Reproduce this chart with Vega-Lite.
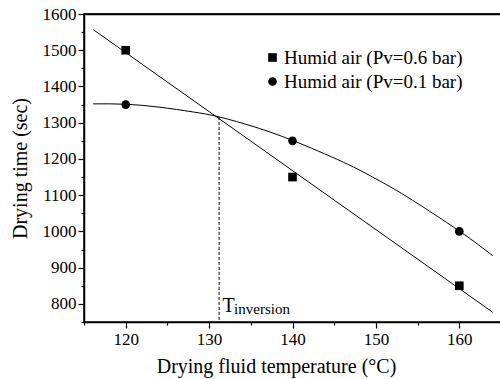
{
  "$schema": "https://vega.github.io/schema/vega-lite/v6.json",
  "width": 417,
  "height": 308,
  "autosize": {"type": "none"},
  "padding": {"left": 84, "top": 14, "right": 0, "bottom": 57},
  "background": "white",
  "config": {
    "font": "Liberation Serif",
    "view": {"stroke": "black", "strokeWidth": 1.5},
    "text": {"font": "Liberation Serif"},
    "legend": {"labelFont": "Liberation Serif", "titleFont": "Liberation Serif"},
    "axis": {"grid": false, "domainColor": "black", "tickColor": "black", "labelColor": "black", "titleColor": "black", "titleFontWeight": "normal", "domainWidth": 1.5, "tickWidth": 1.2, "labelFont": "Liberation Serif", "titleFont": "Liberation Serif"}
  },
  "datasets": {
    "pts": [
      {"T": 120, "time": 1500, "series": "Humid air (Pv=0.6 bar)"},
      {"T": 140, "time": 1150, "series": "Humid air (Pv=0.6 bar)"},
      {"T": 160, "time": 850, "series": "Humid air (Pv=0.6 bar)"},
      {"T": 120, "time": 1350, "series": "Humid air (Pv=0.1 bar)"},
      {"T": 140, "time": 1250, "series": "Humid air (Pv=0.1 bar)"},
      {"T": 160, "time": 1000, "series": "Humid air (Pv=0.1 bar)"}
    ],
    "fit": [
      {"T": 116.1, "time": 1557, "series": "a"},
      {"T": 164.0, "time": 777, "series": "a"},
      {"T": 116.1, "time": 1352, "series": "b"},
      {"T": 120.0, "time": 1351, "series": "b"},
      {"T": 124.0, "time": 1343, "series": "b"},
      {"T": 128.0, "time": 1330, "series": "b"},
      {"T": 131.2, "time": 1316, "series": "b"},
      {"T": 135.5, "time": 1288, "series": "b"},
      {"T": 140.0, "time": 1251, "series": "b"},
      {"T": 146.1, "time": 1191, "series": "b"},
      {"T": 150.0, "time": 1145, "series": "b"},
      {"T": 153.7, "time": 1096, "series": "b"},
      {"T": 160.0, "time": 1001, "series": "b"},
      {"T": 164.0, "time": 933, "series": "b"}
    ],
    "inv": [{"T": 131.2, "top": 1316, "bottom": 750}],
    "border": [{"lo": 115, "hi": 165, "level": 1599}],
    "ann": [
      {"T": 131.6, "time": 778, "label": "T", "kind": "main"},
      {"T": 133.0, "time": 773, "label": "inversion", "kind": "sub"}
    ]
  },
  "resolve": {"axis": {"x": "independent", "y": "independent"}},
  "layer": [
    {
      "data": {"name": "inv"},
      "mark": {"type": "rule", "color": "black", "strokeWidth": 1, "strokeDash": [3, 2]},
      "encoding": {
        "x": {"field": "T", "type": "quantitative", "scale": {"domain": [115, 165], "nice": false, "zero": false},
          "axis": {"values": [115, 125, 135, 145, 155, 165], "labels": false, "domain": false, "tickSize": 3, "title": null, "orient": "bottom"}},
        "y": {"field": "top", "type": "quantitative", "scale": {"domain": [750, 1600], "nice": false, "zero": false},
          "axis": {"values": [750, 850, 950, 1050, 1150, 1250, 1350, 1450, 1550], "labels": false, "domain": false, "tickSize": 3, "title": null, "orient": "left"}},
        "y2": {"field": "bottom"}
      }
    },
    {
      "data": {"name": "fit"},
      "mark": {"type": "line", "color": "black", "strokeWidth": 1, "interpolate": "natural"},
      "encoding": {
        "x": {"field": "T", "type": "quantitative",
          "axis": {"values": [120, 130, 140, 150, 160], "format": "d", "tickSize": 6, "labelFont": "Liberation Serif", "labelFontSize": 17, "labelPadding": 3, "title": "Drying fluid temperature (°C)", "titleFont": "Liberation Serif", "titleFontSize": 20, "titleFontWeight": "normal", "titleX": 192, "titleY": 50, "titleBaseline": "alphabetic", "orient": "bottom"}},
        "y": {"field": "time", "type": "quantitative",
          "axis": {"values": [800, 900, 1000, 1100, 1200, 1300, 1400, 1500, 1600], "format": "d", "tickSize": 6, "labelFont": "Liberation Serif", "labelFontSize": 17, "labelPadding": 2, "title": "Drying time (sec)", "titleFont": "Liberation Serif", "titleFontSize": 20, "titleFontWeight": "normal", "titlePadding": 12, "orient": "left"}},
        "detail": {"field": "series"}
      }
    },
    {
      "data": {"name": "border"},
      "mark": {"type": "rule", "color": "black", "strokeWidth": 1.5},
      "encoding": {
        "x": {"field": "lo", "type": "quantitative", "axis": null},
        "x2": {"field": "hi"},
        "y": {"field": "level", "type": "quantitative", "axis": null}
      }
    },
    {
      "data": {"name": "pts"},
      "mark": {"type": "point", "filled": true, "opacity": 1, "color": "black", "size": 75},
      "encoding": {
        "x": {"field": "T", "type": "quantitative", "axis": {"orient": "top", "labels": false, "ticks": false, "title": null, "domain": true, "domainWidth": 1.5, "domainColor": "black"}},
        "y": {"field": "time", "type": "quantitative", "axis": null},
        "shape": {"field": "series", "type": "nominal",
          "scale": {"domain": ["Humid air (Pv=0.6 bar)", "Humid air (Pv=0.1 bar)"], "range": ["square", "circle"]},
          "legend": {"orient": "none", "legendX": 179, "legendY": 34, "title": null, "labelFontSize": 19, "labelFont": "Liberation Serif", "labelLimit": 400, "labelColor": "black", "symbolFillColor": "black", "symbolStrokeColor": "black", "symbolSize": 75, "rowPadding": 4, "padding": 0, "labelOffset": 2}}
      }
    },
    {
      "data": {"name": "ann"},
      "transform": [{"filter": "datum.kind == 'main'"}],
      "mark": {"type": "text", "align": "left", "baseline": "alphabetic", "font": "Liberation Serif", "fontSize": 20, "color": "black"},
      "encoding": {
        "x": {"field": "T", "type": "quantitative", "axis": null},
        "y": {"field": "time", "type": "quantitative", "axis": null},
        "text": {"field": "label"}
      }
    },
    {
      "data": {"name": "ann"},
      "transform": [{"filter": "datum.kind == 'sub'"}],
      "mark": {"type": "text", "align": "left", "baseline": "alphabetic", "font": "Liberation Serif", "fontSize": 15, "color": "black"},
      "encoding": {
        "x": {"field": "T", "type": "quantitative", "axis": null},
        "y": {"field": "time", "type": "quantitative", "axis": null},
        "text": {"field": "label"}
      }
    }
  ]
}
